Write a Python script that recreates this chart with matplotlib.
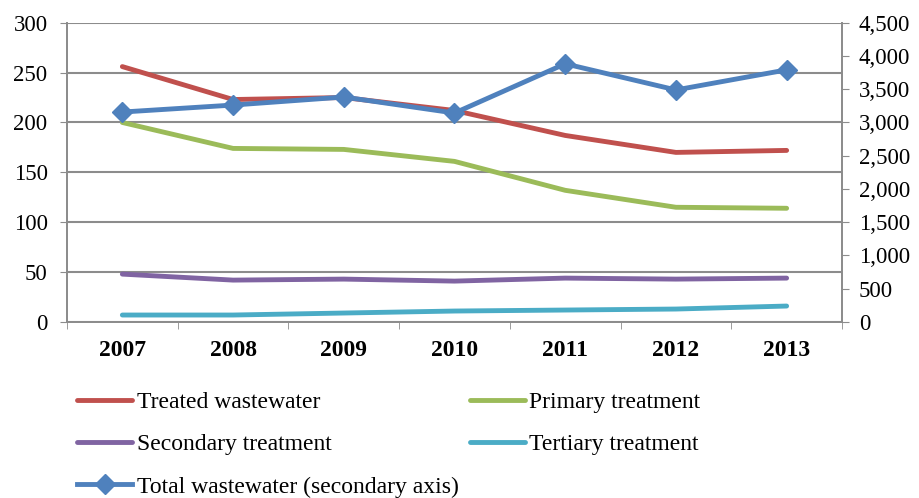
import matplotlib.pyplot as plt
import numpy as np

plt.rcParams['font.family'] = ['Liberation Serif', 'DejaVu Serif']

years = ['2007', '2008', '2009', '2010', '2011', '2012', '2013']
treated = [256, 223, 225, 212, 187, 170, 172]
primary = [200, 174, 173, 161, 132, 115, 114]
secondary = [48, 42, 43, 41, 44, 43, 44]
tertiary = [7, 7, 9, 11, 12, 13, 16]
total = [3157, 3262, 3383, 3142, 3882, 3489, 3791]

grid_c = '#8c8c8c'

fig = plt.figure(figsize=(9.19, 4.98), dpi=100)
ax = fig.add_axes([0.0729, 0.3534, 0.8433, 0.601])
x = np.arange(len(years))

lw = 3.5
l1, = ax.plot(x, treated, color='#C0504D', lw=lw, solid_capstyle='round', label='Treated wastewater')
l2, = ax.plot(x, primary, color='#9BBB59', lw=lw, solid_capstyle='round', label='Primary treatment')
l3, = ax.plot(x, secondary, color='#8064A2', lw=lw, solid_capstyle='round', label='Secondary treatment')
l4, = ax.plot(x, tertiary, color='#4BACC6', lw=lw, solid_capstyle='round', label='Tertiary treatment')

ax.set_ylim(0, 300)
ax.set_yticks(range(0, 301, 50))
ax.set_xlim(-0.5, 6.5)
ax.set_xticks(x)
ax.set_xticklabels(years, fontsize=17, fontweight='bold')
ax.set_xticks(np.arange(-0.5, 7, 1), minor=True)
ax.tick_params(axis='x', which='major', length=0, pad=13)
ax.tick_params(axis='x', which='minor', length=5, color=grid_c, direction='out')
ax.tick_params(axis='y', labelsize=16.5, length=5, color=grid_c, pad=9)
ax.grid(axis='y', color=grid_c, lw=1.5)
ax.set_axisbelow(True)
ax.spines['top'].set_visible(False)
for s in ['left', 'bottom', 'right']:
    ax.spines[s].set_color(grid_c)
    ax.spines[s].set_linewidth(1.3)

ax2 = ax.twinx()
l5, = ax2.plot(x, total, color='#4F81BD', lw=lw, marker='D', markersize=10.5,
               label='Total wastewater (secondary axis)')
ax2.set_ylim(0, 4500)
ax2.set_yticks(range(0, 4501, 500))
ax2.set_yticklabels(['{:,}'.format(v) for v in range(0, 4501, 500)])
ax2.tick_params(axis='y', labelsize=16.5, length=5, color=grid_c, pad=7)
ax2.spines['top'].set_visible(False)
for s in ['left', 'bottom', 'right']:
    ax2.spines[s].set_color(grid_c)
    ax2.spines[s].set_linewidth(1.3)

handles = [l1, l3, l5, l2, l4]
fig.legend(handles=handles, labels=[h.get_label() for h in handles], ncol=2,
           loc='upper left', bbox_to_anchor=(0.074, 0.233), frameon=False,
           fontsize=17, handlelength=2.33, handletextpad=0.2,
           columnspacing=0.45, labelspacing=0.88, borderaxespad=0)

fig.savefig('out.png', dpi=100)
